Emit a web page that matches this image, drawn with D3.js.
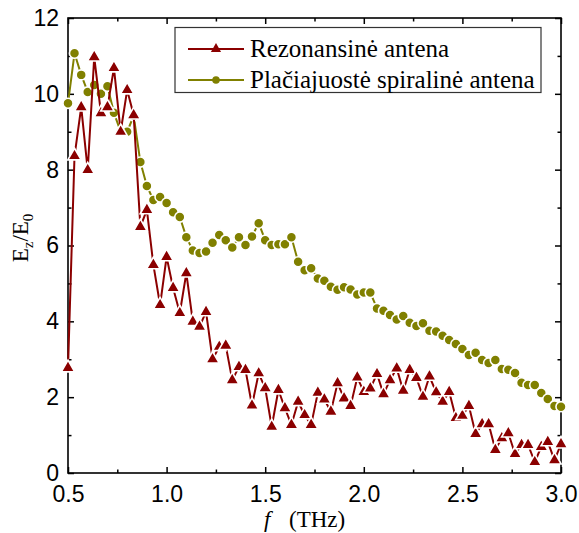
<!DOCTYPE html>
<html>
<head>
<meta charset="utf-8">
<script src="https://cdn.jsdelivr.net/npm/d3@7"></script>
<style>
  html, body { margin: 0; padding: 0; background: #fff; }
  svg { display: block; }
</style>
</head>
<body>
<svg id="chart" width="579" height="533"></svg>
<script>
// Frequency grid (THz)
const freq = [
  0.500, 0.533, 0.567, 0.600, 0.633, 0.667, 0.700, 0.733, 0.767, 0.800,
  0.833, 0.867, 0.900, 0.933, 0.967, 1.000, 1.033, 1.067, 1.100, 1.133,
  1.167, 1.200, 1.233, 1.267, 1.300, 1.333, 1.367, 1.400, 1.433, 1.467,
  1.500, 1.533, 1.567, 1.600, 1.633, 1.667, 1.700, 1.733, 1.767, 1.800,
  1.833, 1.867, 1.900, 1.933, 1.967, 2.000, 2.033, 2.067, 2.100, 2.133,
  2.167, 2.200, 2.233, 2.267, 2.300, 2.333, 2.367, 2.400, 2.433, 2.467,
  2.500, 2.533, 2.567, 2.600, 2.633, 2.667, 2.700, 2.733, 2.767, 2.800,
  2.833, 2.867, 2.900, 2.933, 2.967, 3.000
];

// Field enhancement Ez/E0, resonant antenna
const resonant = [
  2.77, 8.36, 9.65, 7.99, 10.97, 9.49, 9.65, 10.68, 9.00, 10.10,
  9.44, 6.49, 6.94, 5.49, 4.43, 5.70, 4.88, 4.22, 5.27, 3.99,
  3.86, 4.25, 3.00, 3.33, 3.36, 2.45, 2.80, 2.72, 1.78, 2.63,
  2.24, 1.22, 2.19, 1.71, 1.27, 1.88, 1.53, 1.27, 2.12, 1.94,
  1.62, 2.37, 1.97, 1.77, 2.52, 2.14, 2.23, 2.61, 2.08, 2.45,
  2.76, 2.17, 2.72, 2.51, 2.01, 2.55, 2.13, 1.88, 2.14, 1.45,
  1.51, 1.77, 1.03, 1.29, 1.29, 0.61, 0.92, 1.05, 0.50, 0.74,
  0.74, 0.29, 0.69, 0.82, 0.34, 0.76
];

// Field enhancement Ez/E0, broadband spiral antenna
const spiral = [
  9.75, 11.07, 10.50, 10.05, 10.23, 10.00, 10.20, 9.50, 9.00, 9.00,
  9.42, 8.20, 7.57, 7.20, 7.28, 7.12, 6.88, 6.75, 6.22, 5.87,
  5.80, 5.84, 6.07, 6.28, 6.14, 5.95, 6.22, 6.01, 6.24, 6.59,
  6.14, 6.01, 6.03, 6.03, 6.22, 5.57, 5.35, 5.40, 5.13, 5.07,
  4.91, 4.83, 4.90, 4.84, 4.71, 4.76, 4.76, 4.34, 4.28, 4.17,
  4.05, 4.14, 3.96, 3.88, 3.95, 3.75, 3.73, 3.62, 3.51, 3.40,
  3.27, 3.11, 3.17, 2.98, 2.90, 2.98, 2.74, 2.72, 2.64, 2.38,
  2.32, 2.32, 2.11, 1.95, 1.77, 1.75
];

const seriesNames = ["Rezonansinė antena", "Plačiajuostė spiralinė antena"];
const xTicks = [0.5, 1.0, 1.5, 2.0, 2.5, 3.0];
const xMinorTicks = [0.75, 1.25, 1.75, 2.25, 2.75];
const yTicks = [0, 2, 4, 6, 8, 10, 12];
const yMinorTicks = [1, 3, 5, 7, 9, 11];

const colRes = "#8b0000";
const colSpi = "#808000";

const svg = d3.select("#chart");
const L = 68, R = 561, T = 18, B = 473;

const x = d3.scaleLinear().domain([0.5, 3.0]).range([L, R]);
const y = d3.scaleLinear().domain([0, 12]).range([B, T]);

const tickFont = "'Liberation Sans', Arial, sans-serif";
const serif = "'Liberation Serif', 'Times New Roman', serif";

// Axes with inward ticks on all four sides
function styleAxis(g) {
  g.select(".domain").remove();
  g.selectAll("line").attr("stroke", "#000").attr("stroke-width", 1.5);
  g.selectAll("text").attr("font-family", tickFont).attr("font-size", 23).attr("fill", "#000");
}

svg.append("g").attr("transform", `translate(0,${B})`)
  .call(d3.axisBottom(x).tickValues(xTicks).tickSize(-6).tickPadding(13).tickFormat(d3.format(".1f")))
  .call(styleAxis);
svg.append("g").attr("transform", `translate(0,${B})`)
  .call(d3.axisBottom(x).tickValues(xMinorTicks).tickSize(-3.5).tickFormat(""))
  .call(styleAxis);
svg.append("g").attr("transform", `translate(0,${T})`)
  .call(d3.axisTop(x).tickValues(xTicks).tickSize(-6).tickFormat(""))
  .call(styleAxis);
svg.append("g").attr("transform", `translate(0,${T})`)
  .call(d3.axisTop(x).tickValues(xMinorTicks).tickSize(-3.5).tickFormat(""))
  .call(styleAxis);

svg.append("g").attr("transform", `translate(${L},0)`)
  .call(d3.axisLeft(y).tickValues(yTicks).tickSize(-6).tickPadding(9).tickFormat(d3.format("d")))
  .call(styleAxis);
svg.append("g").attr("transform", `translate(${L},0)`)
  .call(d3.axisLeft(y).tickValues(yMinorTicks).tickSize(-3.5).tickFormat(""))
  .call(styleAxis);
svg.append("g").attr("transform", `translate(${R},0)`)
  .call(d3.axisRight(y).tickValues(yTicks).tickSize(-6).tickFormat(""))
  .call(styleAxis);
svg.append("g").attr("transform", `translate(${R},0)`)
  .call(d3.axisRight(y).tickValues(yMinorTicks).tickSize(-3.5).tickFormat(""))
  .call(styleAxis);

// Frame
svg.append("rect")
  .attr("x", L).attr("y", T).attr("width", R - L).attr("height", B - T)
  .attr("fill", "none").attr("stroke", "#000").attr("stroke-width", 1.6);

// Series: line first, then markers with a white rim so the line breaks at each symbol
const line = d3.line().x(d => x(d[0])).y(d => y(d[1]));
const triangle = d3.symbol().type(d3.symbolTriangle).size(78);
const circle = d3.symbol().type(d3.symbolCircle).size(80);

function drawSeries(vals, color, sym) {
  const pts = freq.map((f, i) => [f, vals[i]]);
  svg.append("path").datum(pts)
    .attr("d", line).attr("fill", "none")
    .attr("stroke", color).attr("stroke-width", 2).attr("stroke-linejoin", "round");
  svg.append("g").selectAll("path").data(pts).join("path")
    .attr("transform", d => `translate(${x(d[0])},${y(d[1])})`)
    .attr("d", sym)
    .attr("fill", color).attr("stroke", "#fff").attr("stroke-width", 1.6);
}

drawSeries(spiral, colSpi, circle);
drawSeries(resonant, colRes, triangle);

// Legend
const lg = svg.append("g");
lg.append("rect").attr("x", 175).attr("y", 27.5).attr("width", 366).attr("height", 65)
  .attr("fill", "#fff").attr("stroke", "#333").attr("stroke-width", 1.2);
const legendItems = [
  { name: seriesNames[0], color: colRes, sym: d3.symbol().type(d3.symbolTriangle).size(45), yy: 49 },
  { name: seriesNames[1], color: colSpi, sym: d3.symbol().type(d3.symbolCircle).size(45), yy: 80 }
];
legendItems.forEach(it => {
  lg.append("line").attr("x1", 188).attr("x2", 244).attr("y1", it.yy).attr("y2", it.yy)
    .attr("stroke", it.color).attr("stroke-width", 2);
  lg.append("path").attr("d", it.sym).attr("transform", `translate(216,${it.yy})`).attr("fill", it.color);
  lg.append("text").attr("x", 250).attr("y", it.yy + 8)
    .attr("font-family", serif).attr("font-size", 25).attr("fill", "#000").text(it.name);
});

// Axis titles
const xt = svg.append("text").attr("y", 527)
  .attr("font-family", serif).attr("font-size", 23).attr("fill", "#000");
xt.append("tspan").attr("x", 264).attr("font-style", "italic").text("f");
xt.append("tspan").attr("x", 289).text("(THz)");

const yt = svg.append("text").attr("transform", "translate(28,238) rotate(-90)")
  .attr("text-anchor", "middle").attr("font-family", serif).attr("font-size", 23).attr("fill", "#000");
yt.append("tspan").text("E");
yt.append("tspan").attr("font-size", 15).attr("dy", 5).text("z");
yt.append("tspan").attr("dy", -5).text("/E");
yt.append("tspan").attr("font-size", 15).attr("dy", 5).text("0");
</script>
</body>
</html>
